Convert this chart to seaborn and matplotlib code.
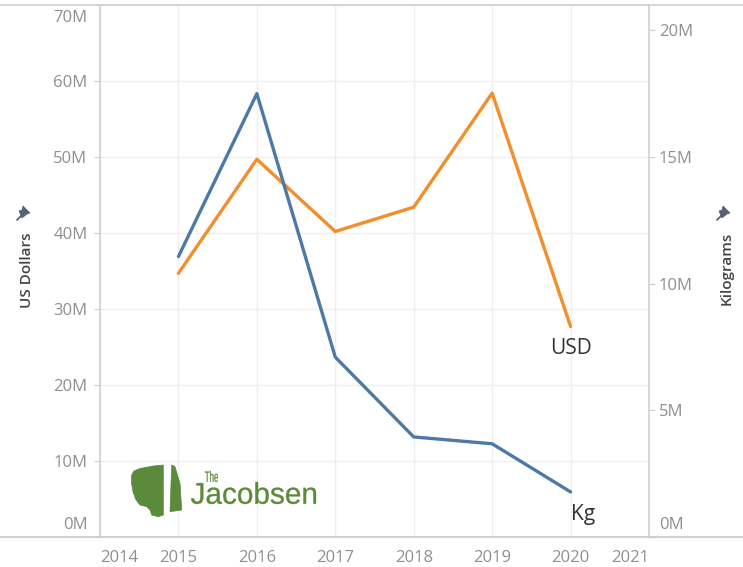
import matplotlib
matplotlib.use("Agg")
import matplotlib.pyplot as plt
import matplotlib.transforms as mtransforms
from matplotlib.patches import Polygon, PathPatch
from matplotlib.lines import Line2D
from matplotlib.textpath import TextPath
from matplotlib.font_manager import FontProperties
import pandas as pd
import seaborn as sns

# data
years = [2015, 2016, 2017, 2018, 2019, 2020]
usd = [34.7e6, 49.7e6, 40.2e6, 43.4e6, 58.4e6, 27.7e6]
kg = [11.07e6, 17.5e6, 7.1e6, 3.95e6, 3.68e6, 1.78e6]
year_ticks = [2014, 2015, 2016, 2017, 2018, 2019, 2020, 2021]
usd_ticks = [0, 10e6, 20e6, 30e6, 40e6, 50e6, 60e6, 70e6]
kg_ticks = [0, 5e6, 10e6, 15e6, 20e6]

df = pd.DataFrame({"year": years, "usd": usd, "kg": kg})

sns.set_style("white")
plt.rcParams["font.family"] = ["Open Sans", "DejaVu Sans"]

W, H = 743, 567
fig = plt.figure(figsize=(W / 100, H / 100), dpi=100)


def px(x, y):
    # pixel coords (from top-left) -> figure fraction
    return x / W, 1 - y / H


orange = "#f28e2b"
blue = "#4e79a7"
tick_col = "#8f8f8f"
grid_col = "#efefef"
axis_col = "#d0d0d0"

ax = fig.add_axes([100 / W, (H - 537) / H, 549 / W, 532 / H])
ax2 = ax.twinx()

sns.lineplot(data=df, x="year", y="usd", ax=ax, color=orange, linewidth=2.4)
sns.lineplot(data=df, x="year", y="kg", ax=ax2, color=blue, linewidth=2.4)

ax.set_xlim(2014, 2021)
ax.set_ylim(0, 70e6)
ax2.set_ylim(0, 21e6)

ax.set_xticks(year_ticks)
ax.set_xticklabels([str(y) for y in year_ticks])
ax.set_yticks(usd_ticks)
ax.set_yticklabels([f"{int(v / 1e6)}M" for v in usd_ticks])
ax2.set_yticks(kg_ticks)
ax2.set_yticklabels([f"{int(v / 1e6)}M" for v in kg_ticks])

for a in (ax, ax2):
    a.set_xlabel("")
    a.set_ylabel("")
    for s in a.spines.values():
        s.set_visible(False)
    a.tick_params(colors=axis_col, labelcolor=tick_col, labelsize=12, length=4, width=0.8)

ax.tick_params(axis="y", pad=5)
ax2.tick_params(axis="y", pad=3)
ax.tick_params(axis="x", pad=6, length=3)
ax.spines["left"].set_visible(True)
ax.spines["left"].set_color(axis_col)
ax.spines["left"].set_linewidth(1.2)
ax2.spines["right"].set_visible(True)
ax2.spines["right"].set_color(axis_col)
ax2.spines["right"].set_linewidth(1.2)

ax.grid(True, color=grid_col, linewidth=1.0)
ax.set_axisbelow(True)

# Tableau-style edge labels, nudged inside
xl = ax.get_xticklabels()
xl[0].set_ha("left")
xl[-1].set_ha("right")
up = mtransforms.ScaledTranslation(0, 10 / 72, fig.dpi_scale_trans)
down = mtransforms.ScaledTranslation(0, -8 / 72, fig.dpi_scale_trans)
yl = ax.get_yticklabels()
yl[0].set_transform(yl[0].get_transform() + up)
yl[-1].set_transform(yl[-1].get_transform() + down)
yl2 = ax2.get_yticklabels()
yl2[0].set_transform(yl2[0].get_transform() + up)

# end labels
ax.annotate("USD", (years[-1], usd[-1]), xytext=(0, -15.5), textcoords="offset points",
            ha="center", va="center", fontsize=15, color="#333333")
ax2.annotate("Kg", (years[-1], kg[-1]), xytext=(0, -16.5), textcoords="offset points",
             ha="left", va="center", fontsize=15, color="#333333")

# full-width top / bottom rules
fig.add_artist(Line2D([0, 1], [px(0, 5)[1]] * 2, color=axis_col, lw=1.2))
fig.add_artist(Line2D([0, 1], [px(0, 536.5)[1]] * 2, color="#c8c8c8", lw=1.2))

# axis titles with pins
fig.text(*px(27, 270), "US Dollars", rotation=90, ha="center", va="center",
         fontsize=11, fontweight="semibold", color="#444444")
fig.text(*px(727, 268), "Kilograms", rotation=90, ha="center", va="center",
         fontsize=11, fontweight="semibold", color="#444444")


def pin(cx, cy):
    col = "#566270"
    head = [(cx - 1, cy - 7), (cx + 6, cy), (cx + 3, cy + 1), (cx - 2, cy + 5), (cx - 5, cy - 2), (cx - 2, cy - 3)]
    fig.add_artist(Polygon([px(x, y) for x, y in head], closed=True, transform=fig.transFigure,
                           facecolor=col, edgecolor=col, lw=0.5))
    fig.add_artist(Line2D(*zip(px(cx - 2, cy + 2), px(cx - 7, cy + 7)), color=col, lw=1.3))


pin(24, 213)
pin(724, 213)

# logo
green = "#5b8a3c"
ear = [(131.7, 475), (134, 471), (140, 468.5), (153.3, 466), (163.3, 465), (163.3, 515),
       (158.3, 516.7), (151.7, 515), (150, 510), (146.7, 506.7), (140, 505), (136, 500),
       (133, 492), (131.5, 483)]
sliver = [(171.7, 465), (175, 466.7), (180, 483.3), (181.7, 510), (170, 511.7)]
for shape in (ear, sliver):
    fig.add_artist(Polygon([px(x, y) for x, y in shape], closed=True, transform=fig.transFigure,
                           facecolor=green, edgecolor=green, lw=0.5, zorder=5))


def fitted_text(s, x0, y0, x1, y1, lw=0.0):
    # text squeezed into a pixel box (top-left origin), gives the condensed logo type
    tp = TextPath((0, 0), s, size=1, prop=FontProperties(family="Liberation Sans"))
    ext = tp.get_extents()
    sx = (x1 - x0) / ext.width
    sy = (y1 - y0) / ext.height
    tr = (mtransforms.Affine2D().translate(-ext.x0, -ext.y0).scale(sx, sy)
          .translate(x0, H - y1))
    fig.add_artist(PathPatch(tp, transform=tr, facecolor=green, edgecolor=green, lw=lw, zorder=5))


fitted_text("The", 205, 471, 218, 482, lw=0.2)
fitted_text("Jacobsen", 191, 482, 316, 504, lw=0.25)

fig.savefig("out.png", dpi=100)
